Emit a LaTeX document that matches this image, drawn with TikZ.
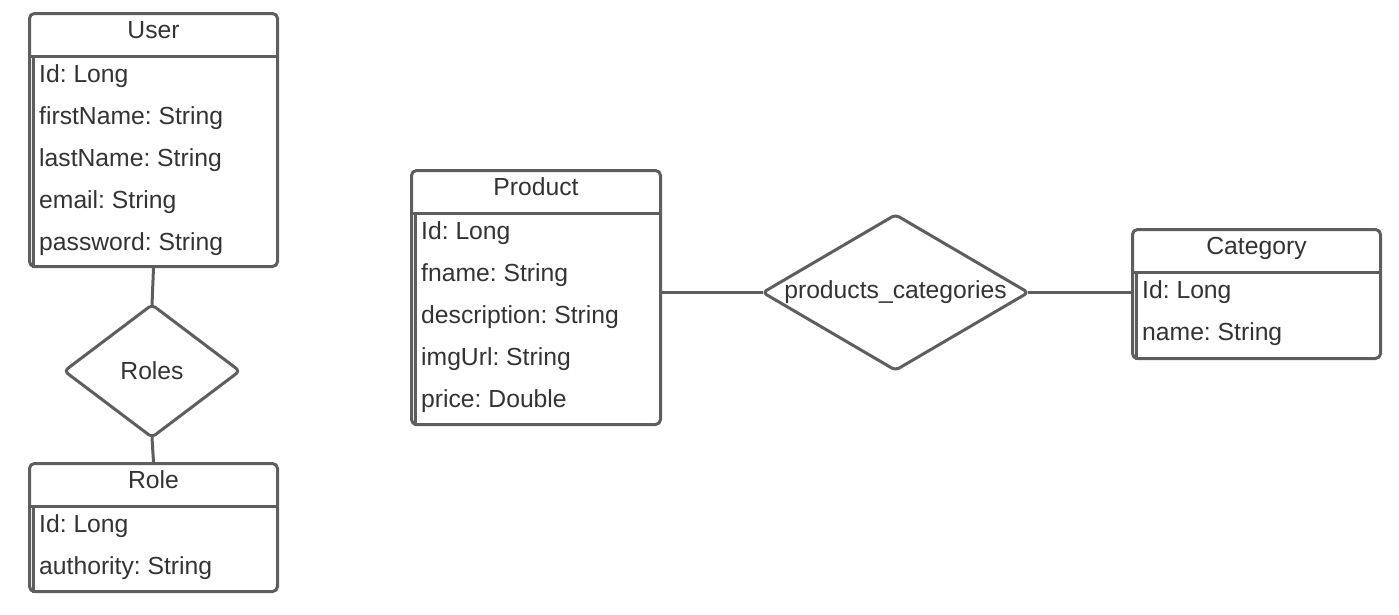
\documentclass[tikz,border=0pt]{standalone}
\usepackage{fontspec}
\setmainfont{Liberation Sans}
\frenchspacing
\definecolor{ln}{HTML}{5E5E5E}
\definecolor{tx}{HTML}{333333}
\tikzset{
  lnst/.style={draw=ln, line width=3pt},
  ent/.style={lnst, rounded corners=5pt, inner sep=0pt, fill=white},
  relbox/.style={inner sep=0pt, text=tx, font=\fontsize{24.7}{29}\selectfont},
  txt/.style={text=tx, inner sep=0pt, font=\fontsize{24.7}{29}\selectfont},
}
\newcommand\erbox[7]{%
  \node[ent, minimum width=#4pt, minimum height=#5pt, anchor=north west] (#1) at (#2,#3) {};
  \draw[lnst] ([yshift=-44pt]#1.north west) -- ([yshift=-44pt]#1.north east);
  \draw[lnst] ([xshift=5pt,yshift=-44pt]#1.north west) -- ([xshift=5pt]#1.south west);
  \node[txt, anchor=base] (#1-title) at ([yshift=-26.5pt]#1.north) {#6};
  \foreach \t [count=\i from 0] in {#7}
    \node[txt, anchor=base west] (#1-row\i) at ([xshift=11pt, yshift={-70.5pt-42pt*\i}]#1.north west) {\t};
}
\newcommand\errel[6]{% name, x, y, w, h, text
  \node[relbox, minimum width=#4pt, minimum height=#5pt] (#1) at (#2,#3) {};
  \draw[lnst, rounded corners=4pt, line join=round] (#1.north) -- (#1.east) -- (#1.south) -- (#1.west) -- cycle;
  \node[txt] (#1-text) at (#1.center) {#6};
}
\begin{document}
\begin{tikzpicture}[x=1pt,y=-1pt]
\useasboundingbox (0,0) rectangle (1399,614);
\erbox{user}{28}{12}{248}{253}{User}{Id: Long, firstName: String, lastName: String, email: String, password: String}
\erbox{role}{28}{462}{248}{128}{Role}{Id: Long, authority: String}
\erbox{product}{410}{169}{249}{254}{Product}{Id: Long, fname: String, description: String, imgUrl: String, price: Double}
\erbox{cat}{1131}{228}{248}{129}{Category}{Id: Long, name: String}
\errel{roles}{152}{371}{175}{132}{Roles}
\errel{pc}{895.5}{292.5}{265}{155}{products\_categories}
\draw[lnst] (user.south) -- (roles.north);
\draw[lnst] (roles.south) -- (role.north);
\draw[lnst] (pc.west -| product.east) -- (pc.west);
\draw[lnst] (pc.east) -- (pc.east -| cat.west);
\end{tikzpicture}
\end{document}
